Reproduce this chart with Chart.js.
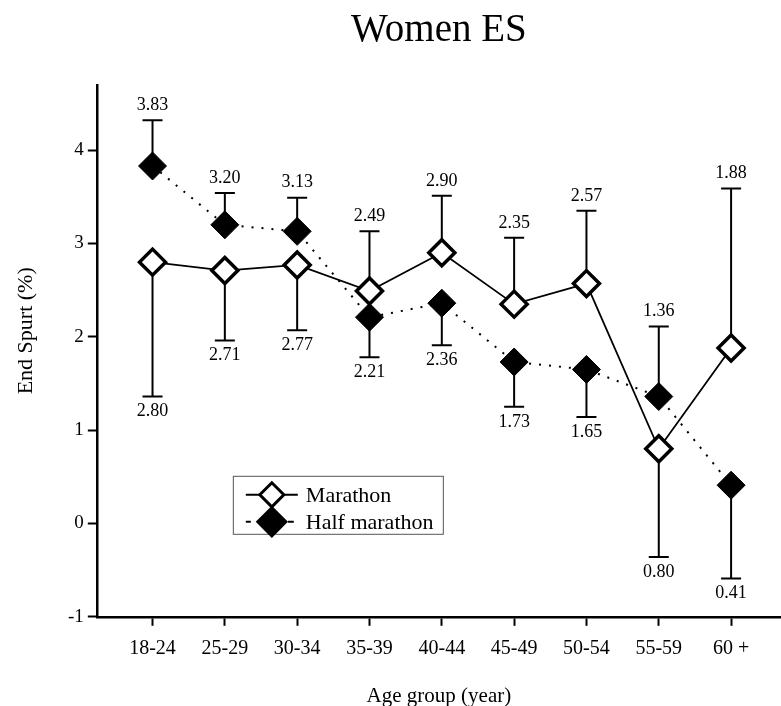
<!DOCTYPE html>
<html>
<head>
<meta charset="utf-8">
<script src="https://cdn.jsdelivr.net/npm/chart.js@4.4.0/dist/chart.umd.min.js"></script>
<style>
    html, body { margin: 0; padding: 0; background: #fff; }
    #wrap { width: 781px; height: 706px; }
</style>
</head>
<body>
<div id="wrap"><canvas id="es-chart" width="781" height="706"></canvas></div>
<script>
// Age groups and mean end spurt (%) per race
const categories = ['18-24', '25-29', '30-34', '35-39', '40-44', '45-49', '50-54', '55-59', '60 +'];
const marathon = [2.80, 2.71, 2.77, 2.49, 2.90, 2.35, 2.57, 0.80, 1.88];
const halfMarathon = [3.83, 3.20, 3.13, 2.21, 2.36, 1.73, 1.65, 1.36, 0.41];

// One-sided error bars: length and side (1 = up, -1 = down)
const marathonErr = [1.44, 0.75, 0.70, 0.64, 0.61, 0.71, 0.78, 1.16, 1.71];
const marathonErrSide = [-1, -1, -1, 1, 1, 1, 1, -1, 1];
const halfErr = [0.49, 0.34, 0.36, 0.43, 0.45, 0.48, 0.51, 0.75, 1.00];
const halfErrSide = [1, 1, 1, -1, -1, -1, -1, 1, -1];

const yTicks = [-1, 0, 1, 2, 3, 4];

const serif = '"Liberation Serif", "Times New Roman", serif';

const toPoints = (values) => values.map((v, i) => ({ x: i, y: v }));

const errorSets = [
    { vals: marathon, err: marathonErr, side: marathonErrSide },
    { vals: halfMarathon, err: halfErr, side: halfErrSide },
];

// Error bars drawn under the markers, value labels on top
const errorBarPlugin = {
    id: 'errorBars',
    beforeDatasetsDraw(chart) {
        const { ctx, scales: { x, y } } = chart;
        ctx.save();
        ctx.strokeStyle = '#000';
        ctx.lineWidth = 2;
        errorSets.forEach(s => {
            s.vals.forEach((v, i) => {
                const px = x.getPixelForValue(i);
                const y0 = y.getPixelForValue(v);
                const y1 = y.getPixelForValue(v + s.side[i] * s.err[i]);
                ctx.beginPath();
                ctx.moveTo(px, y0);
                ctx.lineTo(px, y1);
                ctx.moveTo(px - 10, y1);
                ctx.lineTo(px + 10, y1);
                ctx.stroke();
            });
        });
        ctx.restore();
    },
    afterDatasetsDraw(chart) {
        const { ctx, scales: { x, y } } = chart;
        ctx.save();
        ctx.fillStyle = '#000';
        ctx.font = '18px ' + serif;
        ctx.textAlign = 'center';
        ctx.textBaseline = 'middle';
        errorSets.forEach(s => {
            s.vals.forEach((v, i) => {
                const px = x.getPixelForValue(i);
                const y1 = y.getPixelForValue(v + s.side[i] * s.err[i]);
                ctx.fillText(v.toFixed(2), px, y1 - s.side[i] * 15);
            });
        });
        ctx.restore();
    },
};

// Boxed legend inside the plot, plus the y axis title
const boxLegendPlugin = {
    id: 'boxLegend',
    afterDraw(chart) {
        const { ctx, chartArea } = chart;
        const left = chartArea.left + 136;
        const top = chartArea.top + 391;
        const w = 210, h = 58;
        ctx.save();
        ctx.fillStyle = '#fff';
        ctx.strokeStyle = '#555';
        ctx.lineWidth = 1;
        ctx.fillRect(left, top, w, h);
        ctx.strokeRect(left + 0.5, top + 0.5, w, h);

        const rows = [
            { label: 'Marathon', filled: false, cy: top + 19 },
            { label: 'Half marathon', filled: true, cy: top + 46 },
        ];
        rows.forEach(r => {
            const cx = left + 39;
            ctx.strokeStyle = '#000';
            ctx.lineWidth = 2;
            ctx.beginPath();
            if (r.filled) {
                ctx.moveTo(cx - 26, r.cy); ctx.lineTo(cx - 21, r.cy);
                ctx.moveTo(cx + 16, r.cy); ctx.lineTo(cx + 22, r.cy);
            } else {
                ctx.moveTo(cx - 26, r.cy); ctx.lineTo(cx + 26, r.cy);
            }
            ctx.stroke();
            const rad = r.filled ? 14 : 12;
            ctx.beginPath();
            ctx.moveTo(cx, r.cy - rad);
            ctx.lineTo(cx + rad, r.cy);
            ctx.lineTo(cx, r.cy + rad);
            ctx.lineTo(cx - rad, r.cy);
            ctx.closePath();
            ctx.fillStyle = r.filled ? '#000' : '#fff';
            ctx.fill();
            ctx.lineWidth = 3;
            ctx.stroke();
            ctx.fillStyle = '#000';
            ctx.font = '22px ' + serif;
            ctx.textAlign = 'left';
            ctx.textBaseline = 'middle';
            ctx.fillText(r.label, cx + 34, r.cy + 1);
        });

        // y axis title, sits a little above the axis middle as in the original
        ctx.translate(chartArea.left - 71, chartArea.top + 246);
        ctx.rotate(-Math.PI / 2);
        ctx.font = '22px ' + serif;
        ctx.textAlign = 'center';
        ctx.textBaseline = 'middle';
        ctx.fillText('End Spurt (%)', 0, 0);
        ctx.restore();
    },
};

const ctx = document.getElementById('es-chart').getContext('2d');
new Chart(ctx, {
    type: 'line',
    data: {
        datasets: [
            {
                label: 'Half marathon',
                data: toPoints(halfMarathon),
                borderColor: '#000',
                borderWidth: 2,
                borderDash: [2, 8],
                pointStyle: 'rectRot',
                pointRadius: 14,
                pointBackgroundColor: '#000',
                pointBorderColor: '#000',
                pointBorderWidth: 1,
                fill: false,
                tension: 0,
            },
            {
                label: 'Marathon',
                data: toPoints(marathon),
                borderColor: '#000',
                borderWidth: 1.8,
                pointStyle: 'rectRot',
                pointRadius: 13,
                pointBackgroundColor: '#fff',
                pointBorderColor: '#000',
                pointBorderWidth: 3.5,
                fill: false,
                tension: 0,
            },
        ],
    },
    options: {
        responsive: false,
        animation: false,
        layout: { autoPadding: false, padding: { top: 3, right: 0, bottom: -3, left: 64 } },
        plugins: {
            legend: { display: false },
            tooltip: { enabled: false },
            title: {
                display: true,
                text: 'Women ES',
                fullSize: false,
                color: '#000',
                font: { family: serif, size: 39, weight: 'normal' },
                padding: { top: 4, bottom: 31 },
            },
        },
        scales: {
            x: {
                type: 'linear',
                min: -0.77,
                max: 8.69,
                afterBuildTicks: (axis) => { axis.ticks = categories.map((c, i) => ({ value: i })); },
                ticks: {
                    color: '#000',
                    font: { family: serif, size: 20 },
                    padding: 11,
                    maxRotation: 0,
                    autoSkip: false,
                    callback: (v) => categories[v],
                },
                grid: { display: true, drawOnChartArea: false, drawTicks: true, tickLength: 9, tickWidth: 2, color: '#000' },
                border: { display: true, color: '#000', width: 2.5 },
                title: {
                    display: true,
                    text: 'Age group (year)',
                    color: '#000',
                    font: { family: serif, size: 21 },
                    padding: { top: 12, bottom: 0 },
                },
            },
            y: {
                type: 'linear',
                min: -1,
                max: 4.7,
                afterBuildTicks: (axis) => { axis.ticks = yTicks.map(v => ({ value: v })); },
                ticks: {
                    color: '#000',
                    font: { family: serif, size: 19 },
                    padding: 4,
                },
                grid: { display: true, drawOnChartArea: false, drawTicks: true, tickLength: 9, tickWidth: 2, color: '#000' },
                border: { display: true, color: '#000', width: 2.5 },
            },
        },
    },
    plugins: [errorBarPlugin, boxLegendPlugin],
});
</script>
</body>
</html>
